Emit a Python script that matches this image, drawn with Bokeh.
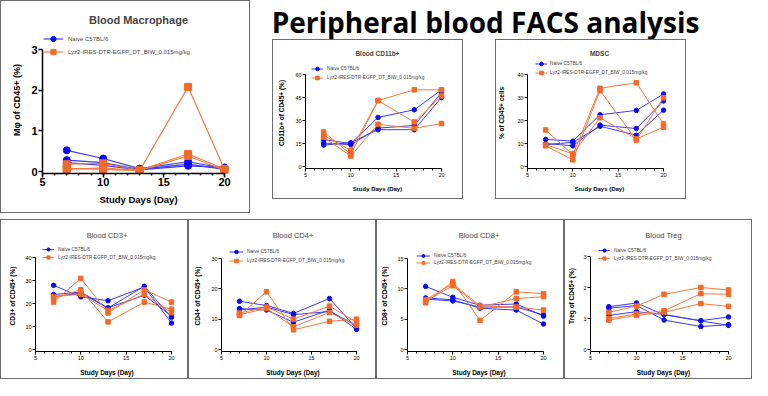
from bokeh.plotting import figure
from bokeh.layouts import row, column
from bokeh.models import Spacer, Legend, LegendItem, FixedTicker, Range1d
from bokeh.embed import file_html
from bokeh.resources import INLINE
from bokeh.core.properties import value

# ---------------- data ----------------
page_title = "Peripheral blood FACS analysis"
days = [7, 10, 13, 17, 20]
x_major = [5, 10, 15, 20]
x_minor = list(range(5, 21))
x_label = "Study Days (Day)"
group_labels = ["Naive C57BL/6", "Lyz2-IRES-DTR-EGFP_DT_BIW_0.015mg/kg"]

mac_title = "Blood Macrophage"
mac_ylabel = "M\u03c6 of CD45+ (%)"
mac_yticks = [0, 1, 2, 3]
mac_naive = [[0.52, 0.32, 0.07, 0.24, 0.08],
             [0.28, 0.22, 0.05, 0.18, 0.05],
             [0.22, 0.15, 0.04, 0.14, 0.10]]
mac_dt = [[0.08, 0.05, 0.02, 2.08, 0.05],
          [0.18, 0.20, 0.03, 0.43, 0.06],
          [0.05, 0.09, 0.02, 0.38, 0.03]]

cd11b_title = "Blood CD11b+"
cd11b_ylabel = "CD11b+ of CD45+ (%)"
cd11b_yticks = [0, 15, 30, 45, 60]
cd11b_naive = [[17.5, 15.0, 32.0, 37.0, 50.0],
               [15.3, 14.2, 25.0, 26.8, 48.2],
               [14.0, 15.5, 24.0, 24.0, 45.0]]
cd11b_dt = [[22.5, 8.0, 43.0, 50.0, 50.0],
            [20.3, 10.5, 43.0, 29.0, 46.0],
            [19.0, 6.8, 27.5, 24.9, 28.0]]

mdsc_title = "MDSC"
mdsc_ylabel = "% of CD45+ cells"
mdsc_yticks = [0, 10, 20, 30, 40]
mdsc_naive = [[11.8, 11.0, 22.5, 24.4, 31.5],
              [10.0, 9.0, 18.0, 16.5, 28.5],
              [9.5, 10.5, 17.5, 13.6, 24.5]]
mdsc_dt = [[15.9, 5.1, 34.0, 36.4, 18.5],
           [9.0, 2.9, 33.0, 11.5, 29.9],
           [9.5, 5.5, 21.2, 12.0, 17.1]]

cd3_title = "Blood CD3+"
cd3_ylabel = "CD3+ of CD45+ (%)"
cd3_yticks = [0, 10, 20, 30, 40]
cd3_naive = [[27.9, 22.9, 21.2, 27.2, 11.5],
             [23.9, 25.0, 18.1, 23.6, 14.5],
             [23.0, 24.5, 18.0, 27.5, 14.0]]
cd3_dt = [[20.6, 30.9, 15.9, 26.0, 20.6],
          [22.2, 26.0, 12.0, 20.6, 17.5],
          [23.0, 24.0, 17.0, 24.0, 16.0]]

cd4_title = "Blood CD4+"
cd4_ylabel = "CD4+ of CD45+ (%)"
cd4_yticks = [0, 10, 20, 30]
cd4_naive = [[15.9, 14.5, 11.9, 16.8, 7.0],
             [13.5, 13.0, 9.0, 13.0, 6.6],
             [13.0, 14.0, 11.5, 12.5, 8.0]]
cd4_dt = [[11.2, 19.0, 6.5, 9.3, 10.0],
          [12.0, 14.0, 10.0, 14.3, 9.0],
          [11.5, 13.5, 7.5, 12.2, 8.0]]

cd8_title = "Blood CD8+"
cd8_ylabel = "CD8+ of CD45+ (%)"
cd8_yticks = [0, 5, 10, 15]
cd8_naive = [[10.4, 8.6, 7.3, 7.5, 5.5],
             [8.5, 8.2, 6.8, 6.5, 4.2],
             [8.3, 8.0, 7.0, 7.0, 5.7]]
cd8_dt = [[7.7, 11.2, 4.8, 9.5, 9.2],
          [8.0, 10.5, 7.0, 8.4, 8.7],
          [8.2, 10.8, 7.2, 7.0, 6.5]]

treg_title = "Blood Treg"
treg_ylabel = "Treg of CD45+ (%)"
treg_yticks = [0, 1, 2, 3]
treg_naive = [[1.38, 1.50, 1.12, 0.93, 1.05],
              [1.33, 1.42, 0.95, 0.74, 0.80],
              [1.10, 1.22, 1.13, 0.92, 0.78]]
treg_dt = [[1.20, 1.40, 1.78, 2.00, 1.92],
           [1.00, 1.15, 1.25, 1.80, 1.78],
           [0.95, 1.10, 1.20, 1.48, 1.39]]

# ---------------- style ----------------
BLUE = "#0A0AF0"
BLUE_LINE = "#3A3AF2"
ORANGE = "#F26A28"
ORANGE_LINE = "#F47A40"
FONT = "Liberation Sans"
BORDER = {"outline": "1px solid #6e6e6e", "outline-offset": "-1px"}


def make_panel(title, ylabel, yticks, naive, dt, c):
    W, H = c["W"], c["H"]
    ax, x20, fr = c["ax"], c["x20"], c["fr"]
    ytp, y0p = c["ytp"], c["y0p"]
    fbot = y0p + 2
    ftop = c["ftop"]
    ytop = yticks[-1]
    ppd = (x20 - ax) / 15.0
    ppu = (y0p - ytp) / float(ytop)
    x_end = 20 + (fr - x20) / ppd
    y_end = ytop + (ytp - ftop) / ppu
    y_start = -2.0 / ppu
    p = figure(width=W, height=H, output_backend="svg", toolbar_location=None,
               x_range=Range1d(5, x_end), y_range=Range1d(y_start, y_end),
               min_border_left=ax, min_border_right=W - fr,
               min_border_top=ftop, min_border_bottom=H - fbot,
               background_fill_color=None, border_fill_color=None,
               outline_line_color=None, styles=BORDER, title=title)
    p.grid.visible = False
    p.title.text_font = FONT
    p.title.text_font_size = c["t_size"]
    p.title.text_font_style = "bold" if c["t_bold"] else "normal"
    p.title.align = "center"
    p.title.offset = c["t_off"]
    p.title.standoff = c["t_so"]

    rn, ro = [], []
    for ser in naive:
        l = p.line(days, ser, line_color=BLUE_LINE, line_width=c["lw"])
        s = p.scatter(days, ser, marker="circle", size=c["ms"],
                      fill_color=BLUE, line_color=BLUE)
        rn.append((l, s))
    for ser in dt:
        l = p.line(days, ser, line_color=ORANGE_LINE, line_width=c["lw"])
        s = p.scatter(days, ser, marker="square", size=c["ms"],
                      fill_color=ORANGE, line_color=ORANGE)
        ro.append((l, s))

    eh, gw = c["eh"], c["gw"]
    vx = c["mx"] - gw / 2.0 - ax
    vy = fbot - c["lt"] - 2 * eh
    leg = Legend(items=[LegendItem(label=group_labels[0], renderers=list(rn[0])),
                        LegendItem(label=group_labels[1], renderers=list(ro[0]))],
                 location=(vx, vy), orientation="vertical",
                 label_text_font=FONT, label_text_font_size=c["l_size"],
                 glyph_width=gw, glyph_height=eh, label_height=eh,
                 label_standoff=c["lst"], spacing=0, padding=0, margin=0,
                 border_line_color=None, background_fill_alpha=0)
    p.add_layout(leg)

    xa, ya = p.xaxis[0], p.yaxis[0]
    xa.ticker = FixedTicker(ticks=x_major, minor_ticks=x_minor)
    xa.bounds = (5, 20)
    ya.ticker = FixedTicker(ticks=yticks)
    ya.bounds = (y_start, ytop)
    for a in (xa, ya):
        a.axis_line_width = c["aw"]
        a.axis_line_color = "black"
        a.major_tick_line_width = c["aw"]
        a.major_tick_line_color = "black"
        a.major_tick_in = 0
        a.major_tick_out = c["to"]
        a.minor_tick_line_width = c["aw"]
        a.minor_tick_line_color = "black"
        a.minor_tick_in = 0
        a.minor_tick_out = c["mto"]
        a.major_label_text_font = FONT
        a.major_label_text_font_size = c["tk_size"]
        a.major_label_text_font_style = c["tk_style"]
        a.major_label_text_color = "black"
        a.axis_label_text_font = FONT
        a.axis_label_text_font_style = "bold"
        a.axis_label_text_color = "black"
    xa.axis_label = x_label
    ya.axis_label = ylabel
    xa.axis_label_text_font_size = c["xl_size"]
    ya.axis_label_text_font_size = c["yl_size"]
    xa.major_label_standoff = c["x_mls"]
    xa.axis_label_standoff = c["x_als"]
    ya.major_label_standoff = c["y_mls"]
    ya.axis_label_standoff = c["y_als"]
    return p


small = dict(H=160, t_size="7.5px", t_bold=False, t_so=2, l_size="4.8px", lst=4,
             tk_size="5.5px", tk_style="normal", xl_size="6.5px", yl_size="6.5px",
             aw=1, to=3, mto=2, x_mls=1, x_als=6, y_mls=1, ms=4.5, lw=1)

mac_c = dict(W=250, H=213, ax=42, x20=224, fr=234, ytp=49, y0p=171, ftop=26,
             t_size="11px", t_bold=True, t_off=-5, t_so=2,
             lt=32, eh=13, mx=53, gw=20, lst=5, l_size="6px",
             tk_size="11px", tk_style="bold", xl_size="9.5px", yl_size="9px",
             aw=1.5, to=4, mto=2, x_mls=0, x_als=5, y_mls=1, y_als=6, ms=7, lw=1.2)

cd11b_c = dict(small, W=191, ax=33, x20=169, fr=177, ytp=35, y0p=127, ftop=18,
               t_size="6.5px", t_bold=True, t_off=-14, lt=25, eh=9, mx=45, gw=12,
               xl_size="6px", y_als=7)
mdsc_c = dict(small, W=191, ax=32, x20=168, fr=176, ytp=35, y0p=127, ftop=18,
              t_size="6.5px", t_bold=True, t_off=-8, lt=20, eh=9, mx=46, gw=12, lst=3,
              xl_size="6px", y_als=9)

cd3_c = dict(small, W=188, ax=35, x20=171, fr=178, ytp=38, y0p=130, ftop=21,
             t_off=-10, lt=26, eh=8, mx=48, gw=12, y_als=6)
cd4_c = dict(small, W=188, ax=33, x20=168, fr=176, ytp=39, y0p=130, ftop=21,
             t_off=-8, lt=28, eh=9, mx=48, gw=14, y_als=7)
cd8_c = dict(small, W=188, ax=31, x20=167, fr=174, ytp=39, y0p=130, ftop=21,
             t_off=-9, lt=33, eh=7, mx=47, gw=14, y_als=6)
treg_c = dict(small, W=188, ax=26, x20=164, fr=172, ytp=37, y0p=130, ftop=21,
              t_off=-4, lt=27, eh=8, mx=40, gw=12, y_als=5)

mac = make_panel(mac_title, mac_ylabel, mac_yticks, mac_naive, mac_dt, mac_c)
cd11b = make_panel(cd11b_title, cd11b_ylabel, cd11b_yticks, cd11b_naive, cd11b_dt, cd11b_c)
mdsc = make_panel(mdsc_title, mdsc_ylabel, mdsc_yticks, mdsc_naive, mdsc_dt, mdsc_c)
cd3 = make_panel(cd3_title, cd3_ylabel, cd3_yticks, cd3_naive, cd3_dt, cd3_c)
cd4 = make_panel(cd4_title, cd4_ylabel, cd4_yticks, cd4_naive, cd4_dt, cd4_c)
cd8 = make_panel(cd8_title, cd8_ylabel, cd8_yticks, cd8_naive, cd8_dt, cd8_c)
treg = make_panel(treg_title, treg_ylabel, treg_yticks, treg_naive, treg_dt, treg_c)

tp = figure(width=480, height=39, output_backend="svg", toolbar_location=None,
            x_range=Range1d(0, 480), y_range=Range1d(0, 39),
            x_axis_type=None, y_axis_type=None, min_border=0,
            outline_line_color=None, background_fill_color=None, border_fill_color=None)
tp.grid.visible = False
tp.text(x=[213], y=[18], text=[page_title], text_font=value("Open Sans"),
        text_font_size="28px", text_font_style="bold", text_align="center",
        text_baseline="alphabetic", text_color="black")

top_right = column(tp, row(cd11b, Spacer(width=32, height=160), mdsc))
top = row(mac, Spacer(width=22, height=213), top_right)
bottom = row(cd3, cd4, cd8, treg)
layout = column(top, Spacer(width=752, height=6), bottom)

open("out.html", "w").write(file_html(layout, INLINE))
